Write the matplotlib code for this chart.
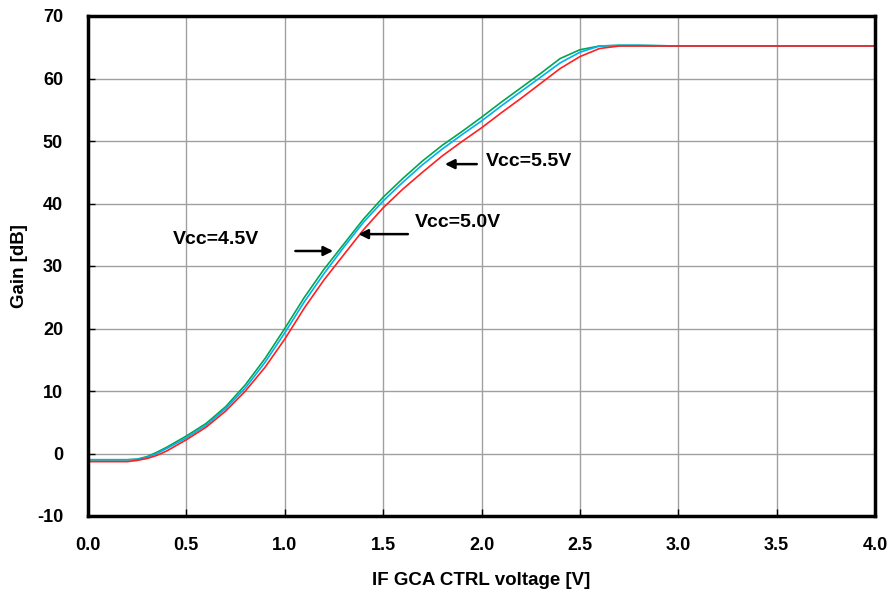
import matplotlib
matplotlib.use("Agg")
import matplotlib.pyplot as plt
import numpy as np

plt.rcParams['font.family'] = ['Liberation Sans', 'DejaVu Sans']
plt.rcParams['font.weight'] = 'bold'
plt.rcParams['axes.unicode_minus'] = False

# control voltage [V]
ctrl_v = [0.0, 0.1, 0.2, 0.25, 0.3, 0.35, 0.4, 0.5, 0.6, 0.7, 0.8, 0.9,
          1.0, 1.1, 1.2, 1.3, 1.4, 1.5, 1.6, 1.7, 1.8, 1.9, 2.0, 2.1,
          2.2, 2.3, 2.4, 2.5, 2.6, 2.7, 2.8, 3.0, 3.5, 4.0]

# gain [dB] for each supply voltage
gain_45 = [-1.0, -1.0, -1.0, -0.9, -0.5, 0.2, 1.0, 2.8, 4.8, 7.5, 11.0, 15.2,
           20.0, 25.0, 29.5, 33.5, 37.5, 41.0, 44.0, 46.8, 49.3, 51.5, 53.8, 56.2,
           58.5, 60.8, 63.2, 64.6, 65.2, 65.3, 65.3, 65.2, 65.2, 65.2]
gain_50 = [-1.0, -1.0, -1.0, -0.95, -0.6, 0.0, 0.8, 2.5, 4.5, 7.2, 10.5, 14.6,
           19.3, 24.3, 28.8, 33.0, 37.0, 40.4, 43.4, 46.2, 48.7, 51.0, 53.2, 55.6,
           57.9, 60.2, 62.5, 64.2, 65.2, 65.3, 65.3, 65.2, 65.2, 65.2]
gain_55 = [-1.3, -1.3, -1.3, -1.1, -0.8, -0.3, 0.4, 2.2, 4.2, 6.8, 10.0, 13.8,
           18.3, 23.3, 27.8, 31.8, 35.8, 39.3, 42.3, 45.0, 47.6, 49.9, 52.1, 54.5,
           56.8, 59.2, 61.6, 63.5, 64.8, 65.2, 65.2, 65.2, 65.2, 65.2]

fig = plt.figure(figsize=(8.93, 5.92), dpi=100)
ax = fig.add_axes([88 / 893, 76 / 592, 787 / 893, 500 / 592])

ax.plot(ctrl_v, gain_45, color='#00a651', lw=1.2)
ax.plot(ctrl_v, gain_50, color='#00b0f0', lw=1.2)
ax.plot(ctrl_v, gain_55, color='#ff2020', lw=1.2)

ax.set_xlim(0, 4.0)
ax.set_ylim(-10, 70)
ax.set_xticks(np.arange(0, 4.01, 0.5))
ax.set_yticks(np.arange(-10, 71, 10))
ax.set_xticklabels([f"{v:.1f}" for v in np.arange(0, 4.01, 0.5)])
ax.grid(True, color='#a0a0a0', lw=1.0)
ax.tick_params(direction='in', length=5, width=1, labelsize=13)
ax.tick_params(axis='x', pad=15)
ax.tick_params(axis='y', pad=18)
for s in ax.spines.values():
    s.set_linewidth(2.5)

ax.set_xlabel('IF GCA CTRL voltage [V]', fontsize=13.5, fontweight='bold', labelpad=13)
ax.set_ylabel('Gain [dB]', fontsize=13.5, fontweight='bold', labelpad=6)

arrow = dict(arrowstyle='-|>', color='black', lw=1.8, mutation_scale=14)
ax.annotate('', xy=(1.80, 46.3), xytext=(1.99, 46.3), arrowprops=arrow)
ax.text(2.02, 46.8, 'Vcc=5.5V', fontsize=14, fontweight='bold', va='center')
ax.annotate('', xy=(1.36, 35.1), xytext=(1.64, 35.1), arrowprops=arrow)
ax.text(1.66, 36.9, 'Vcc=5.0V', fontsize=14, fontweight='bold', va='center')
ax.annotate('', xy=(1.26, 32.4), xytext=(1.04, 32.4), arrowprops=arrow)
ax.text(0.43, 34.2, 'Vcc=4.5V', fontsize=14, fontweight='bold', va='center')

fig.savefig('out.png', dpi=100)
